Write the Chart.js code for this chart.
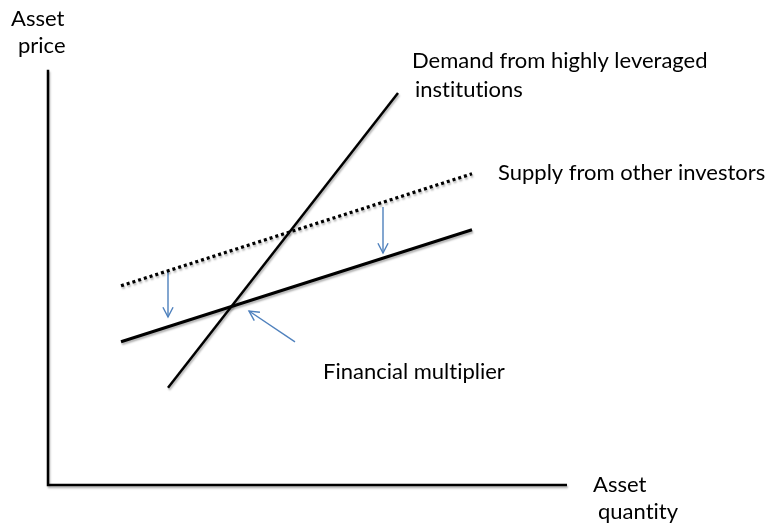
<!DOCTYPE html>
<html>
<head>
<meta charset="utf-8">
<script src="https://cdn.jsdelivr.net/npm/chart.js@4.4.1/dist/chart.umd.min.js"></script>
<style>
html, body { margin: 0; padding: 0; background: #fff; }
#wrap { width: 771px; height: 526px; }
</style>
</head>
<body>
<div id="wrap"><canvas id="chart"></canvas></div>
<script>
// Financial multiplier diagram - quantity on x, price on y (arbitrary units)

const demandQ = [2.4, 7.0];
const demandP = [2.43, 9.8];
const supplyQ = [1.46, 8.48];
const supplyOldP = [4.98, 7.78];   // dotted, before the shift
const supplyNewP = [3.58, 6.38];   // solid, after the shift

// blue arrows showing the downward shift of supply
const shiftQ = [2.4, 6.7];
const shiftFromP = [5.38, 6.95];
const shiftToP = [4.2, 5.8];

// blue arrow pointing at the new equilibrium
const pointerQ = [4.94, 4.02];
const pointerP = [3.58, 4.35];

const axisQMax = 10.38;
const axisPMax = 10.38;

const BLUE = '#4f81bd';
const FONT = '22px Lato, "Liberation Sans", sans-serif';

// text labels, anchored at left/baseline
const notes = [
    { text: 'Asset', q: -0.74, p: 11.475 },
    { text: 'price', q: -0.6, p: 10.8 },
    { text: 'Demand from highly leveraged', q: 7.28, p: 10.425 },
    { text: 'institutions', q: 7.34, p: 9.7 },
    { text: 'Supply from other investors', q: 9.0, p: 7.625 },
    { text: 'Financial multiplier', q: 5.5, p: 2.65 },
    { text: 'Asset', q: 10.9, p: -0.175 },
    { text: 'quantity', q: 11.0, p: -0.85 }
];

function pts(qs, ps) {
    return qs.map(function(q, i) { return { x: q, y: ps[i] }; });
}

const datasets = [
    {
        data: [{ x: 0, y: axisPMax }, { x: 0, y: 0 }, { x: axisQMax, y: 0 }],
        borderColor: '#000', borderWidth: 2.5, shadow: true
    },
    { data: pts(demandQ, demandP), borderColor: '#000', borderWidth: 2.5, shadow: true },
    {
        data: pts(supplyQ, supplyOldP), borderColor: '#000', borderWidth: 3.2,
        borderDash: [3, 3], borderCapStyle: 'butt', shadow: true
    },
    { data: pts(supplyQ, supplyNewP), borderColor: '#000', borderWidth: 3, shadow: true }
];

shiftQ.forEach(function(q, i) {
    datasets.push({
        data: [{ x: q, y: shiftFromP[i] }, { x: q, y: shiftToP[i] }],
        borderColor: BLUE, borderWidth: 1.4, arrow: true
    });
});
datasets.push({ data: pts(pointerQ, pointerP), borderColor: BLUE, borderWidth: 1.4, arrow: true });

datasets.forEach(function(d) {
    d.showLine = true;
    d.pointRadius = 0;
    d.fill = false;
    d.tension = 0;
});

const shadowPlugin = {
    id: 'shadow',
    beforeDatasetDraw: function(chart, args) {
        const ds = chart.data.datasets[args.index];
        if (!ds.shadow) return;
        const ctx = chart.ctx;
        ctx.save();
        ctx.shadowColor = 'rgba(0,0,0,0.3)';
        ctx.shadowOffsetX = 1;
        ctx.shadowOffsetY = 2;
        ctx.shadowBlur = 2;
    },
    afterDatasetDraw: function(chart, args) {
        const ds = chart.data.datasets[args.index];
        if (ds.shadow) chart.ctx.restore();
    }
};

const arrowPlugin = {
    id: 'arrowHeads',
    afterDatasetsDraw: function(chart) {
        const ctx = chart.ctx;
        chart.data.datasets.forEach(function(ds, i) {
            if (!ds.arrow) return;
            const el = chart.getDatasetMeta(i).data;
            const a = el[el.length - 2], b = el[el.length - 1];
            const ang = Math.atan2(b.y - a.y, b.x - a.x);
            const len = 11, spread = 0.48;
            ctx.save();
            ctx.strokeStyle = ds.borderColor;
            ctx.lineWidth = ds.borderWidth;
            ctx.beginPath();
            ctx.moveTo(b.x - len * Math.cos(ang - spread), b.y - len * Math.sin(ang - spread));
            ctx.lineTo(b.x, b.y);
            ctx.lineTo(b.x - len * Math.cos(ang + spread), b.y - len * Math.sin(ang + spread));
            ctx.stroke();
            ctx.restore();
        });
    }
};

const notesPlugin = {
    id: 'notes',
    afterDraw: function(chart) {
        const ctx = chart.ctx;
        const xs = chart.scales.x, ys = chart.scales.y;
        ctx.save();
        ctx.font = FONT;
        ctx.fillStyle = '#000';
        ctx.textAlign = 'left';
        ctx.textBaseline = 'alphabetic';
        notes.forEach(function(n) {
            // zero-width non-joiners keep Lato from drawing "ti" ligatures
            const t = n.text.split('').join('\u200C');
            ctx.fillText(t, xs.getPixelForValue(n.q), ys.getPixelForValue(n.p));
        });
        ctx.restore();
    }
};

new Chart(document.getElementById('chart'), {
    type: 'scatter',
    data: { datasets: datasets },
    options: {
        responsive: true,
        maintainAspectRatio: false,
        animation: false,
        devicePixelRatio: 1,
        layout: { padding: 0 },
        scales: {
            x: { type: 'linear', min: -0.96, max: 14.46, display: false },
            y: { type: 'linear', min: -1.025, max: 12.125, display: false }
        },
        plugins: {
            legend: { display: false },
            tooltip: { enabled: false }
        }
    },
    plugins: [shadowPlugin, arrowPlugin, notesPlugin]
});
</script>
</body>
</html>
